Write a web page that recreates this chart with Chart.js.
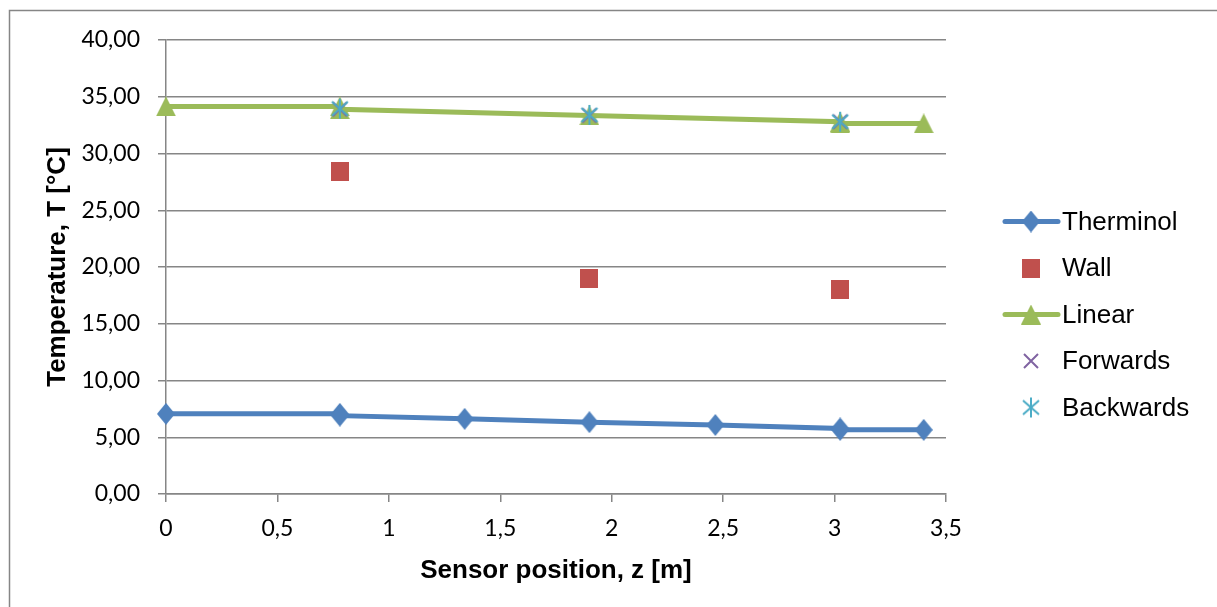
<!DOCTYPE html>
<html>
<head>
<meta charset="utf-8">
<script src="https://cdn.jsdelivr.net/npm/chart.js@4.4.1/dist/chart.umd.min.js"></script>
<style>
  html, body { margin: 0; padding: 0; background: #fff; }
  #wrap { width: 1217px; height: 607px; }
</style>
</head>
<body>
<div id="wrap"><canvas id="grafica" width="1217" height="607"></canvas></div>
<script>
// Datos
const xTickLabels = ['0', '0,5', '1', '1,5', '2', '2,5', '3', '3,5'];
const yTickLabels = ['0,00', '5,00', '10,00', '15,00', '20,00', '25,00', '30,00', '35,00', '40,00'];

const therminolX = [0, 0.78, 0.78, 1.34, 1.9, 2.465, 3.025, 3.025, 3.4];
const therminolY = [7.06, 7.06, 6.9, 6.62, 6.33, 6.08, 5.78, 5.65, 5.65];

const wallX = [0.78, 1.9, 3.025];
const wallY = [28.45, 19.0, 18.05];

const linearX = [0, 0.78, 0.78, 1.9, 3.025, 3.025, 3.4];
const linearY = [34.15, 34.15, 33.9, 33.35, 32.8, 32.65, 32.65];

const forwardsX = [0.78, 1.9, 3.025];
const forwardsY = [33.9, 33.35, 32.8];

const backwardsX = [0.78, 1.9, 3.025];
const backwardsY = [33.95, 33.4, 32.8];

const GRIS = '#868686';

function puntos(xs, ys) {
    return xs.map((x, i) => ({ x: x, y: ys[i] }));
}

// Marcadores dibujados en canvas pequeños
function marcador(w, h, dibujar) {
    const c = document.createElement('canvas');
    c.width = w;
    c.height = h;
    dibujar(c.getContext('2d'), w, h);
    return c;
}

const rombo = marcador(18, 22, (ctx, w, h) => {
    ctx.fillStyle = '#4F81BD';
    ctx.beginPath();
    ctx.moveTo(w / 2, 0); ctx.lineTo(w, h / 2); ctx.lineTo(w / 2, h); ctx.lineTo(0, h / 2);
    ctx.closePath();
    ctx.fill();
});

const cuadrado = marcador(18, 19, (ctx, w, h) => {
    ctx.fillStyle = '#C0504D';
    ctx.fillRect(0, 0, w, h);
});

const triangulo = marcador(20, 20, (ctx, w, h) => {
    ctx.fillStyle = '#9BBB59';
    ctx.beginPath();
    ctx.moveTo(w / 2, 0); ctx.lineTo(w, h); ctx.lineTo(0, h);
    ctx.closePath();
    ctx.fill();
});

const cruz = marcador(18, 18, (ctx, w, h) => {
    ctx.strokeStyle = '#8064A2';
    ctx.lineWidth = 2;
    ctx.beginPath();
    ctx.moveTo(2, 2); ctx.lineTo(w - 2, h - 2);
    ctx.moveTo(w - 2, 2); ctx.lineTo(2, h - 2);
    ctx.stroke();
});

const estrella = marcador(20, 22, (ctx, w, h) => {
    ctx.strokeStyle = '#4BACC6';
    ctx.lineWidth = 2;
    ctx.beginPath();
    ctx.moveTo(2, 4); ctx.lineTo(w - 2, h - 4);
    ctx.moveTo(w - 2, 4); ctx.lineTo(2, h - 4);
    ctx.moveTo(w / 2, 1); ctx.lineTo(w / 2, h - 1);
    ctx.stroke();
});

// Leyenda y marco propios
const leyenda = {
    id: 'leyenda',
    beforeDraw(chart) {
        const ctx = chart.ctx;
        ctx.save();
        ctx.strokeStyle = GRIS;
        ctx.lineWidth = 1.5;
        ctx.strokeRect(9.5, 10.5, 1300, 700);
        ctx.restore();
    },
    afterDraw(chart) {
        const ctx = chart.ctx;
        const filas = [221.5, 268, 314.5, 361, 407.5];
        ctx.save();
        chart.data.datasets.forEach((ds, i) => {
            const y = filas[i];
            if (ds.showLine) {
                ctx.strokeStyle = ds.borderColor;
                ctx.lineWidth = 5;
                ctx.lineCap = 'round';
                ctx.beginPath();
                ctx.moveTo(1005, y);
                ctx.lineTo(1058, y);
                ctx.stroke();
            }
            const m = ds.pointStyle;
            ctx.drawImage(m, 1031 - m.width / 2, y - m.height / 2);
            ctx.fillStyle = '#000';
            ctx.font = '26px "Liberation Sans", Arial, sans-serif';
            ctx.textBaseline = 'middle';
            ctx.textAlign = 'left';
            ctx.fillText(ds.label, 1062, y + 1);
        });
        ctx.restore();
    }
};

const ctx = document.getElementById('grafica').getContext('2d');

new Chart(ctx, {
    type: 'scatter',
    data: {
        datasets: [
            { label: 'Therminol', data: puntos(therminolX, therminolY), showLine: true,
              borderColor: '#4F81BD', borderWidth: 5, pointStyle: rombo, order: 5, clip: false },
            { label: 'Wall', data: puntos(wallX, wallY), showLine: false,
              pointStyle: cuadrado, order: 4, clip: false },
            { label: 'Linear', data: puntos(linearX, linearY), showLine: true,
              borderColor: '#9BBB59', borderWidth: 5, pointStyle: triangulo, order: 3, clip: false },
            { label: 'Forwards', data: puntos(forwardsX, forwardsY), showLine: false,
              pointStyle: cruz, order: 2, clip: false },
            { label: 'Backwards', data: puntos(backwardsX, backwardsY), showLine: false,
              pointStyle: estrella, order: 1, clip: false }
        ]
    },
    options: {
        responsive: false,
        animation: false,
        layout: { padding: { left: 0, right: 271, top: 40, bottom: 0 } },
        plugins: {
            legend: { display: false },
            tooltip: { enabled: false }
        },
        scales: {
            x: {
                type: 'linear',
                min: 0,
                max: 3.5,
                afterFit: (scale) => { scale.height = 113; },
                ticks: {
                    stepSize: 0.5,
                    color: '#000',
                    padding: 13,
                    font: { family: 'Lato', size: 23 },
                    callback: (v, i) => xTickLabels[i]
                },
                grid: { drawOnChartArea: false, drawTicks: true, tickLength: 8, color: GRIS, lineWidth: 1.5 },
                border: { color: GRIS, width: 1.5 },
                title: {
                    display: true,
                    text: 'Sensor position, z [m]',
                    color: '#000',
                    font: { family: 'Liberation Sans', size: 26, weight: 'bold' },
                    padding: { top: 0, bottom: 21 }
                }
            },
            y: {
                min: 0,
                max: 40,
                afterFit: (scale) => { scale.width = 166; },
                ticks: {
                    stepSize: 5,
                    color: '#000',
                    padding: 18,
                    font: { family: 'Lato', size: 23 },
                    callback: (v, i) => yTickLabels[i]
                },
                grid: { drawTicks: true, tickLength: 8, color: GRIS, lineWidth: 1.5 },
                border: { color: GRIS, width: 1.5 },
                title: {
                    display: true,
                    text: 'Temperature, T [°C]',
                    color: '#000',
                    font: { family: 'Liberation Sans', size: 26, weight: 'bold' },
                    padding: { top: 42, bottom: 0 }
                }
            }
        }
    },
    plugins: [leyenda]
});
</script>
</body>
</html>
